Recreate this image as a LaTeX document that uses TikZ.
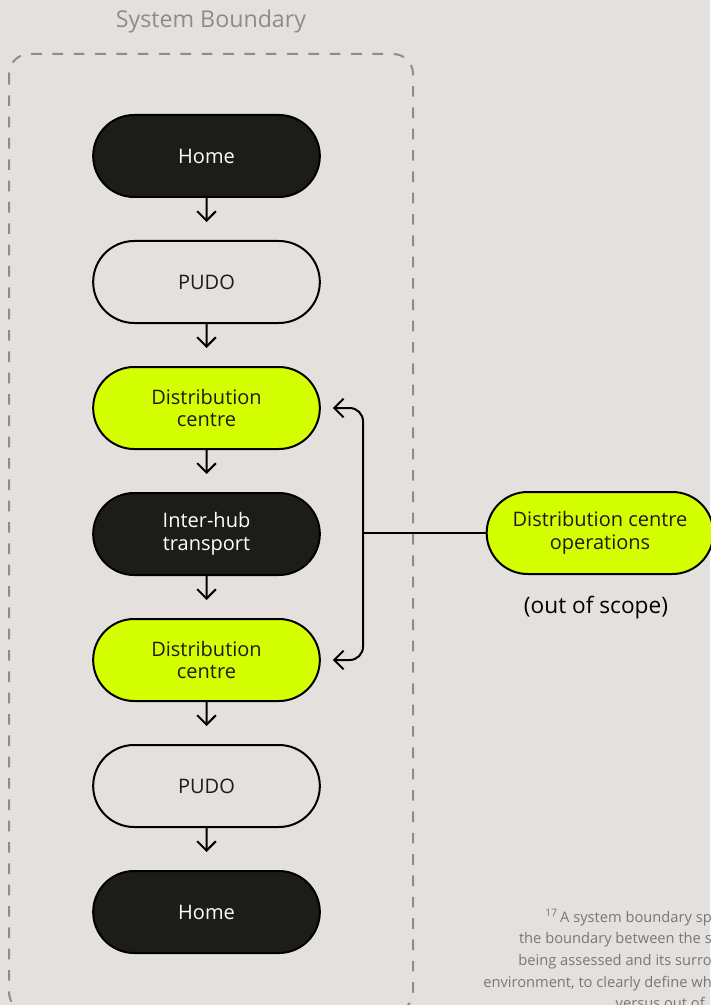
\documentclass[tikz,border=0pt]{standalone}
\usepackage{fontspec}
\setmainfont{Open Sans}
\usetikzlibrary{arrows.meta,shapes.misc}

\definecolor{paperbg}{HTML}{E4E0DD}
\definecolor{limefill}{HTML}{D4FF00}
\definecolor{inkfill}{HTML}{1C1C18}
\definecolor{boundgrey}{HTML}{8E8B89}
\definecolor{notegrey}{HTML}{7A7773}

\tikzset{
  stage/.style={rounded rectangle, draw=black, line width=1.5pt,
    minimum width=170pt, minimum height=61.5pt, inner sep=0pt,
    align=center, font=\fontsize{15pt}{17pt}\selectfont},
  darkstage/.style={stage, fill=inkfill, text=white},
  openstage/.style={stage, fill=paperbg, text=inkfill},
  limestage/.style={stage, fill=limefill, text=inkfill},
  flow/.style={-{Straight Barb[length=7pt,width=14pt]}, line width=1.5pt, shorten >=13.5pt},
  noteline/.style={anchor=base east, inner sep=0pt, text=notegrey, font=\fontsize{11pt}{13pt}\selectfont}
}

\begin{document}
\begin{tikzpicture}[x=0.75pt,y=0.75pt,yscale=-1,xscale=1]
\useasboundingbox (0,0) rectangle (710,1005);
\fill[paperbg] (0,0) rectangle (710,1005);

% boundary
\draw[boundgrey, line width=1.5pt, dash pattern=on 8pt off 8pt, rounded corners=15pt] (9,54) rectangle (413,1012);
\node (title) [anchor=base, inner sep=0pt, text=boundgrey, font=\fontsize{17.4pt}{20pt}\selectfont] at (211,28) {System Boundary};

% chain
\node (homeA) [darkstage] at (206.5,156) {Home};
\node (pudoA) [openstage] at (206.5,282) {PUDO};
\node (dcA)   [limestage] at (206.5,408) {Distribution\\centre};
\node (hub)   [darkstage] at (206.5,534) {Inter-hub\\transport};
\node (dcB)   [limestage] at (206.5,660) {Distribution\\centre};
\node (pudoB) [openstage] at (206.5,786) {PUDO};
\node (homeB) [darkstage] at (206.5,912) {Home};

\draw[flow] (homeA) -- (pudoA);
\draw[flow] (pudoA) -- (dcA);
\draw[flow] (dcA) -- (hub);
\draw[flow] (hub) -- (dcB);
\draw[flow] (dcB) -- (pudoB);
\draw[flow] (pudoB) -- (homeB);

% out of scope
\node (ops) [limestage] at (600,533) {Distribution centre\\operations};
\node (scope) [inner sep=0pt, text=black, font=\fontsize{17pt}{20pt}\selectfont] at (596,608) {(out of scope)};

\coordinate (join) at (363,533);
\draw[{Straight Barb[length=7pt,width=14pt]}-{Straight Barb[length=7pt,width=14pt]}, line width=1.5pt, rounded corners=10pt]
  ([xshift=9pt]dcA.east) -| (join) |- ([xshift=9pt]dcB.east);
\draw[line width=1.5pt] (join) -- (ops.west);

% footnote
\node (noteA) [noteline] at (712,922) {\textsuperscript{17}\,A system boundary sp};
\node (noteB) [noteline] at (712,943.7) {the boundary between the s};
\node (noteC) [noteline] at (712,965.4) {being assessed and its surro};
\node (noteD) [noteline] at (712,987) {environment, to clearly define wh};
\node (noteE) [noteline] at (705,1008.8) {versus out of};
\end{tikzpicture}
\end{document}
